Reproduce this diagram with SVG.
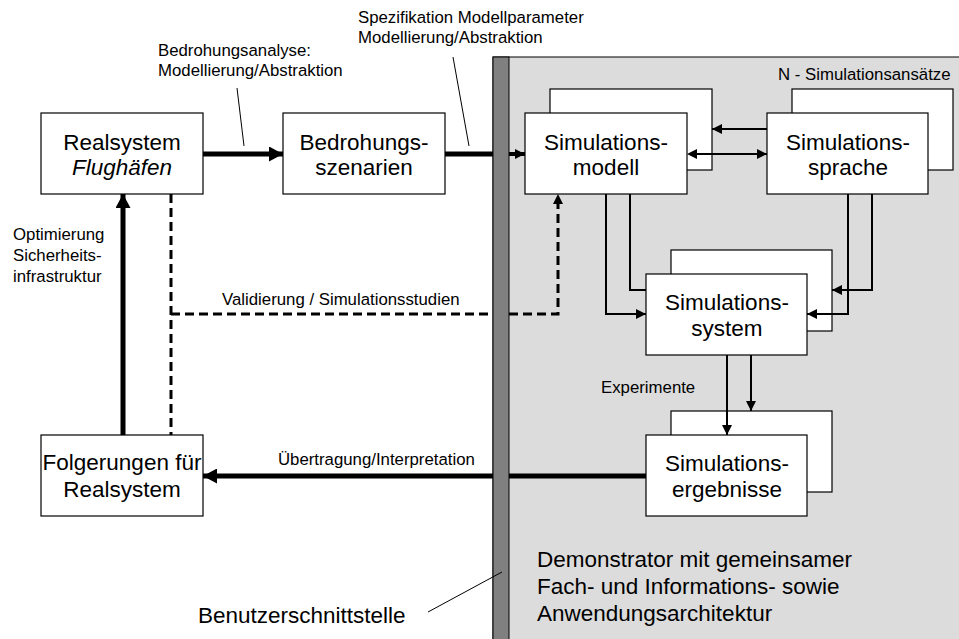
<svg xmlns="http://www.w3.org/2000/svg" width="959" height="639" viewBox="0 0 959 639">
<style>
  text { font-family: "Liberation Sans", Arial, sans-serif; fill: #000; }
  .big { font-size: 22.5px; text-anchor: middle; }
  .lbl { font-size: 16.8px; }
  .box { fill: #fff; stroke: #000; stroke-width: 1.2; }
  .thin { fill: none; stroke: #000; stroke-width: 2; }
  .thick { fill: none; stroke: #000; stroke-width: 5; }
  .dash { fill: none; stroke: #000; stroke-width: 3; stroke-dasharray: 9 5; }
  .lead { fill: none; stroke: #000; stroke-width: 1; }
  .head { fill: #000; }
</style>
<defs>
  <marker id="ah" markerUnits="userSpaceOnUse" markerWidth="10" markerHeight="10" refX="10" refY="5" orient="auto">
    <path d="M0,0 L10,5 L0,10 z" fill="#000"/>
  </marker>
  <marker id="ahT" markerUnits="userSpaceOnUse" markerWidth="14" markerHeight="15" refX="14" refY="7.5" orient="auto">
    <path d="M0,0 L14,7.5 L0,15 z" fill="#000"/>
  </marker>
</defs>
<rect width="959" height="639" fill="#fff"/>

<g id="demonstrator-area">
  <rect x="493" y="57" width="470" height="590" fill="#dcdcdc" stroke="#000" stroke-width="1"/>
  <rect x="493" y="57" width="16" height="590" fill="#808080" stroke="#000" stroke-width="1"/>
  <text class="lbl" x="778" y="80">N - Simulationsansätze</text>
  <text x="537" y="567" font-size="22.5">Demonstrator mit gemeinsamer</text>
  <text x="537" y="594" font-size="22.5">Fach- und Informations- sowie</text>
  <text x="537" y="621" font-size="22.5">Anwendungsarchitektur</text>
</g>

<g id="realsystem">
  <rect class="box" x="41" y="113" width="162" height="81"/>
  <text class="big" x="122" y="150">Realsystem</text>
  <text class="big" x="122" y="175" font-style="italic">Flughäfen</text>
</g>
<g id="bedrohungsszenarien">
  <rect class="box" x="283" y="113" width="162" height="81"/>
  <text class="big" x="364" y="150">Bedrohungs-</text>
  <text class="big" x="364" y="175">szenarien</text>
</g>
<g id="simulationsmodell">
  <rect class="box" x="550" y="89" width="162" height="81"/>
  <rect class="box" x="525" y="113" width="162" height="81"/>
  <text class="big" x="606" y="150">Simulations-</text>
  <text class="big" x="606" y="175">modell</text>
</g>
<g id="simulationssprache">
  <rect class="box" x="792" y="89" width="161" height="81"/>
  <rect class="box" x="767" y="113" width="161" height="81"/>
  <text class="big" x="848" y="150">Simulations-</text>
  <text class="big" x="848" y="175">sprache</text>
</g>
<g id="simulationssystem">
  <rect class="box" x="671" y="250" width="161" height="81"/>
  <rect class="box" x="646" y="274" width="161" height="81"/>
  <text class="big" x="727" y="310">Simulations-</text>
  <text class="big" x="727" y="336">system</text>
</g>
<g id="simulationsergebnisse">
  <rect class="box" x="671" y="411" width="161" height="81"/>
  <rect class="box" x="646" y="435" width="161" height="81"/>
  <text class="big" x="727" y="471">Simulations-</text>
  <text class="big" x="727" y="497">ergebnisse</text>
</g>
<g id="folgerungen">
  <rect class="box" x="41" y="435" width="162" height="81"/>
  <text class="big" x="122" y="470">Folgerungen für</text>
  <text class="big" x="122" y="497">Realsystem</text>
</g>

<g id="connectors">
  <line class="thick" x1="203" y1="154" x2="283" y2="154" marker-end="url(#ahT)"/>
  <line class="thick" x1="445" y1="154" x2="493" y2="154"/>
  <line x1="509" y1="154" x2="525" y2="154" stroke="#000" stroke-width="4" marker-end="url(#ah)"/>
  <line class="thin" x1="767" y1="129" x2="712" y2="129" marker-end="url(#ah)"/>
  <line class="thin" x1="697" y1="154" x2="767" y2="154" marker-end="url(#ah)"/>
  <path class="head" d="M687,154 L697,149 L697,159 z"/>
  <polyline class="thin" points="606,194 606,314 646,314" marker-end="url(#ah)"/>
  <polyline class="thin" points="630,194 630,290 646,290"/>
  <polyline class="thin" points="872,194 872,290 832,290" marker-end="url(#ah)"/>
  <polyline class="thin" points="848,194 848,314 807,314" marker-end="url(#ah)"/>
  <line class="thin" x1="727" y1="355" x2="727" y2="435" marker-end="url(#ah)"/>
  <line class="thin" x1="751" y1="355" x2="751" y2="411" marker-end="url(#ah)"/>
  <line class="thick" x1="123" y1="435" x2="123" y2="194" marker-end="url(#ahT)"/>
  <line class="dash" x1="171" y1="194" x2="171" y2="435"/>
  <line class="dash" x1="171" y1="314" x2="493" y2="314"/>
  <polyline class="dash" points="509,314 558,314 558,204"/>
  <path class="head" d="M553,204 L558,194 L563,204 z"/>
  <line class="thick" x1="646" y1="476" x2="509" y2="476"/>
  <line class="thick" x1="493" y1="476" x2="203" y2="476" marker-end="url(#ahT)"/>
  <line class="lead" x1="237" y1="88" x2="244" y2="146"/>
  <line class="lead" x1="453" y1="57" x2="469" y2="146"/>
  <line class="lead" x1="428" y1="612" x2="502" y2="572"/>
  <text class="lbl" x="158" y="56">Bedrohungsanalyse:</text>
  <text class="lbl" x="158" y="76">Modellierung/Abstraktion</text>
  <text class="lbl" x="358" y="23">Spezifikation Modellparameter</text>
  <text class="lbl" x="358" y="43">Modellierung/Abstraktion</text>
  <text class="lbl" x="13" y="240">Optimierung</text>
  <text class="lbl" x="13" y="261">Sicherheits-</text>
  <text class="lbl" x="13" y="282">infrastruktur</text>
  <text class="lbl" x="222" y="305">Validierung / Simulationsstudien</text>
  <text class="lbl" x="278" y="465">Übertragung/Interpretation</text>
  <text class="lbl" x="601" y="393">Experimente</text>
  <text x="198" y="623" font-size="22.5">Benutzerschnittstelle</text>
</g>
</svg>
